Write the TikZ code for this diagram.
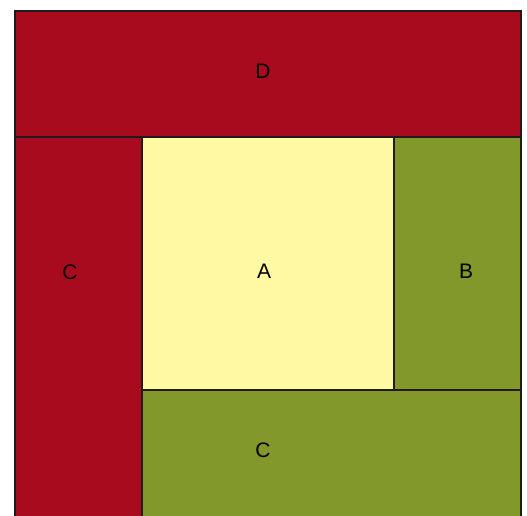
\documentclass[tikz,border=0pt]{standalone}
\usepackage{fontspec}
\setmainfont{Liberation Sans}
\usepackage{tikz}
\usepackage{xcolor}
\definecolor{QRed}{HTML}{A80B1D}
\definecolor{QYellow}{HTML}{FFF9A4}
\definecolor{QGreen}{HTML}{82982A}
\definecolor{QLine}{HTML}{221A1A}

\begin{document}
\begin{tikzpicture}[
    x=1pt,y=-1pt,font=\fontsize{21}{25}\selectfont,
    region/.style={draw=QLine,line width=1.4pt},
    tag/.style={text=black,inner sep=0pt,anchor=center}
  ]
    \useasboundingbox (0,0) rectangle (527,515);
    % regions
    \filldraw[region,fill=QRed] (15,11) rectangle (521,137);
    \filldraw[region,fill=QRed] (15,137) rectangle (142,520);
    \filldraw[region,fill=QYellow] (142,137) rectangle (394,390);
    \filldraw[region,fill=QGreen] (394,137) rectangle (521,390);
    \filldraw[region,fill=QGreen] (142,390) rectangle (521,520);

    % labels
    \node[tag] (d) at (263,71) {D};
    \node[tag] (cleft) at (70,272) {C};
    \node[tag] (a) at (264,271) {A};
    \node[tag] (b) at (466,271) {B};
    \node[tag] (cbottom) at (263,450) {C};
  \end{tikzpicture}
\end{document}
